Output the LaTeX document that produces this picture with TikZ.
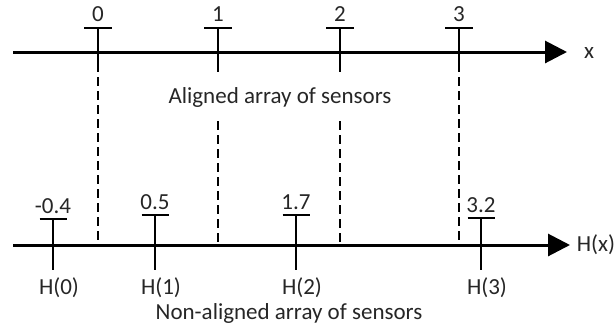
\documentclass[tikz,border=0pt]{standalone}
\usepackage{fontspec}
\setmainfont{Carlito}
\usetikzlibrary{arrows.meta,positioning}

\begin{document}
\begin{tikzpicture}[x=1pt, y=-1pt,
        axisline/.style={line width=3pt, -{Triangle[length=22pt,width=22pt]}},
        sensor/.style={line width=2.8pt},
        guide/.style={line width=2.9pt, dash pattern=on 9pt off 5pt},
        lbl/.style={font=\fontsize{23}{27}\selectfont, text=black!85, inner sep=0pt}]
        \useasboundingbox (0,0) rectangle (614,330);

        % Top axis: aligned array
        \coordinate (xs) at (13,52);
        \coordinate (xe) at (567,52);
        \draw[axisline] (xs) -- (xe);
        \node[lbl] (xlab) at (589,53) {x};
        \foreach \n/\px in {0/98, 1/218, 2/340, 3/459} {
            \coordinate (at\n) at (\px,28);
            \coordinate (ab\n) at (\px,72);
            \draw[sensor] ([xshift=-14pt]at\n) -- ([xshift=14pt]at\n);
            \draw[sensor] (at\n) -- (ab\n);
            \node[lbl, above=6pt of at\n] (al\n) {\n};
        }
        \node[lbl] (aligned) at (280,97) {Aligned array of sensors};

        % Bottom axis: non-aligned array
        \coordinate (hs) at (13,245);
        \coordinate (he) at (570,245);
        \draw[axisline] (hs) -- (he);
        \node[lbl] (hlab) at (596,245) {H(x)};
        \foreach \n/\px/\py/\val in {0/53/219/-0.4, 1/155/215/0.5, 2/296/215/1.7, 3/481/218/3.2} {
            \coordinate (bt\n) at (\px,\py);
            \coordinate (bb\n) at (\px,270);
            \draw[sensor] ([xshift=-13.5pt]bt\n) -- ([xshift=13.5pt]bt\n);
            \draw[sensor] (bt\n) -- (bb\n);
            \node[lbl, above=5pt of bt\n] (bl\n) {\val};
            \node[lbl, below=7pt of bb\n, xshift=6pt] (hn\n) {H(\n)};
        }
        \node[lbl] (nonaligned) at (289,313) {Non-aligned array of sensors};

        % Dashed guides from x = 0,1,2,3 down to the H axis
        \foreach \n/\px/\py in {0/98/72, 1/218/116, 2/340/116, 3/459/72} {
            \coordinate (gs\n) at (\px,\py);
            \coordinate (ge\n) at (\px,245);
            \draw[guide, dash phase=9pt] (gs\n) -- (ge\n);
        }
\end{tikzpicture}
\end{document}
